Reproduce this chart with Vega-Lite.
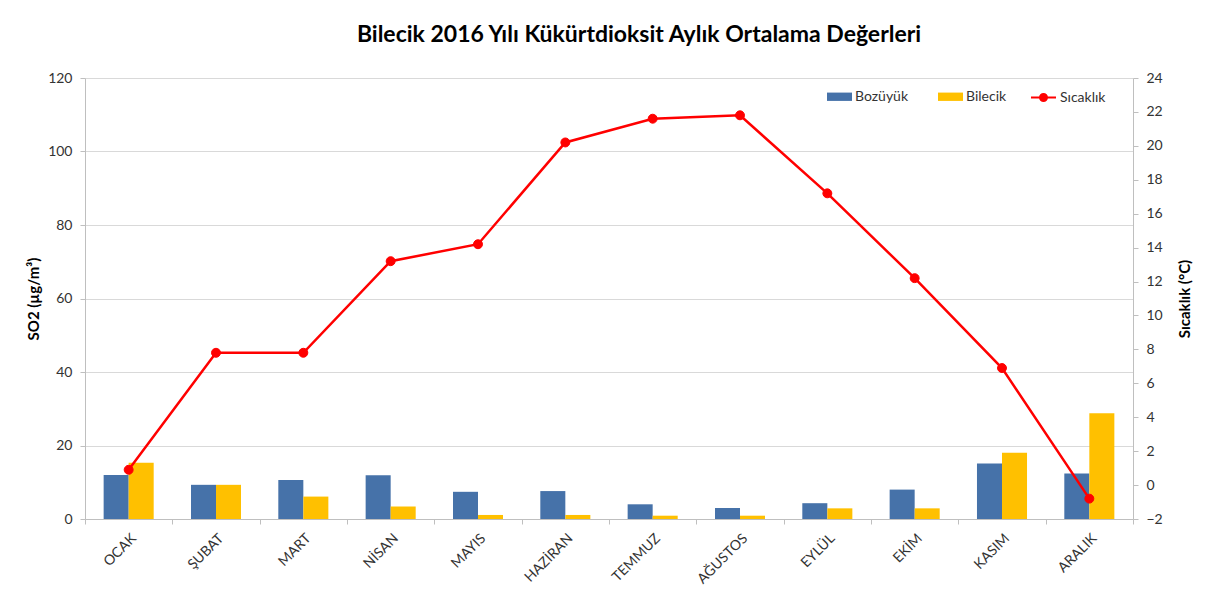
{
  "$schema": "https://vega.github.io/schema/vega-lite/v6.json",
  "autosize": "none",
  "width": 1048,
  "height": 441,
  "padding": {"left": 85, "top": 78, "right": 79, "bottom": 93},
  "background": "white",
  "config": {"font": "Lato", "view": {"stroke": null}},
  "title": {
    "text": "Bilecik 2016 Yılı Kükürtdioksit Aylık Ortalama Değerleri",
    "fontSize": 23,
    "fontWeight": "bold",
    "color": "#000000",
    "anchor": "middle",
    "dx": 30,
    "offset": 24
  },
  "data": {
    "values": [
      {"month": "OCAK", "Bozüyük": 12.0, "Bilecik": 15.3, "temp": 0.9},
      {"month": "ŞUBAT", "Bozüyük": 9.3, "Bilecik": 9.3, "temp": 7.8},
      {"month": "MART", "Bozüyük": 10.6, "Bilecik": 6.1, "temp": 7.8},
      {"month": "NİSAN", "Bozüyük": 11.9, "Bilecik": 3.4, "temp": 13.2},
      {"month": "MAYIS", "Bozüyük": 7.4, "Bilecik": 1.1, "temp": 14.2},
      {"month": "HAZİRAN", "Bozüyük": 7.6, "Bilecik": 1.1, "temp": 20.2},
      {"month": "TEMMUZ", "Bozüyük": 4.0, "Bilecik": 0.9, "temp": 21.6},
      {"month": "AĞUSTOS", "Bozüyük": 3.0, "Bilecik": 0.9, "temp": 21.8},
      {"month": "EYLÜL", "Bozüyük": 4.3, "Bilecik": 2.9, "temp": 17.2},
      {"month": "EKİM", "Bozüyük": 8.0, "Bilecik": 2.9, "temp": 12.2},
      {"month": "KASIM", "Bozüyük": 15.1, "Bilecik": 18.0, "temp": 6.9},
      {"month": "ARALIK", "Bozüyük": 12.4, "Bilecik": 28.8, "temp": -0.8}
    ]
  },
  "encoding": {
    "x": {
      "field": "month",
      "type": "nominal",
      "sort": null,
      "scale": {"paddingInner": 0, "paddingOuter": 0},
      "axis": {
        "title": null,
        "labelAngle": -45,
        "labelAlign": "right",
        "labelBaseline": "top",
        "labelFontSize": 14,
        "labelColor": "#333333",
        "labelPadding": 7,
        "tickBand": "extent",
        "tickColor": "#bfbfbf",
        "domainColor": "#bfbfbf",
        "tickSize": 5,
        "grid": false
      }
    }
  },
  "layer": [
    {
      "transform": [{"fold": ["Bozüyük", "Bilecik"], "as": ["series", "value"]}],
      "mark": {"type": "bar"},
      "encoding": {
        "xOffset": {
          "field": "series",
          "sort": ["Bozüyük", "Bilecik"],
          "scale": {"paddingOuter": 0.745, "paddingInner": 0}
        },
        "y": {
          "field": "value",
          "type": "quantitative",
          "scale": {"domain": [0, 120], "nice": false},
          "axis": {
            "title": "SO2 (µg/m³)",
            "titleFontSize": 15,
            "titleFontWeight": "bold",
            "titleColor": "#000000",
            "titlePadding": 6,
            "labelFontSize": 14,
            "labelColor": "#333333",
            "labelPadding": 8,
            "values": [0, 20, 40, 60, 80, 100, 120],
            "grid": true,
            "gridColor": "#d9d9d9",
            "domainColor": "#bfbfbf",
            "tickColor": "#bfbfbf",
            "tickSize": 5
          }
        },
        "color": {
          "field": "series",
          "type": "nominal",
          "scale": {"domain": ["Bozüyük", "Bilecik"], "range": ["#4672a9", "#ffc000"]},
          "legend": {
            "orient": "none",
            "legendX": 746,
            "legendY": 10,
            "direction": "horizontal",
            "title": null,
            "symbolType": "M-1.5,-0.5H1.5V0.5H-1.5Z",
            "symbolSize": 278,
            "symbolStrokeWidth": 0,
            "labelFontSize": 14,
            "labelColor": "#333333",
            "labelOffset": 7,
            "columnPadding": 28
          }
        }
      }
    },
    {
      "mark": {
        "type": "line",
        "strokeWidth": 2.5,
        "point": {"filled": true, "size": 80, "fill": "#ff0000", "strokeWidth": 1}
      },
      "encoding": {
        "y": {
          "field": "temp",
          "type": "quantitative",
          "scale": {"domain": [-2, 24], "nice": false, "zero": false},
          "axis": {
            "orient": "right",
            "title": "Sıcaklık (°C)",
            "titleAngle": 270,
            "titleFontSize": 15,
            "titleFontWeight": "bold",
            "titleColor": "#000000",
            "titlePadding": 30,
            "labelFontSize": 14,
            "labelColor": "#333333",
            "labelPadding": 8,
            "values": [-2, 0, 2, 4, 6, 8, 10, 12, 14, 16, 18, 20, 22, 24],
            "grid": false,
            "domainColor": "#bfbfbf",
            "tickColor": "#bfbfbf",
            "tickSize": 5
          }
        },
        "stroke": {
          "datum": "Sıcaklık",
          "scale": {"range": ["#ff0000"]},
          "legend": {
            "orient": "none",
            "legendX": 949,
            "legendY": 10,
            "title": null,
            "symbolType": "M-1.5,0H1.5M-0.42,0A0.42,0.42 0 1,0 0.42,0A0.42,0.42 0 1,0 -0.42,0Z",
            "symbolSize": 278,
            "symbolFillColor": "#ff0000",
            "symbolStrokeColor": "#ff0000",
            "symbolStrokeWidth": 2,
            "labelFontSize": 14,
            "labelColor": "#333333",
            "labelOffset": 7
          }
        }
      }
    }
  ],
  "resolve": {"scale": {"y": "independent"}}
}
